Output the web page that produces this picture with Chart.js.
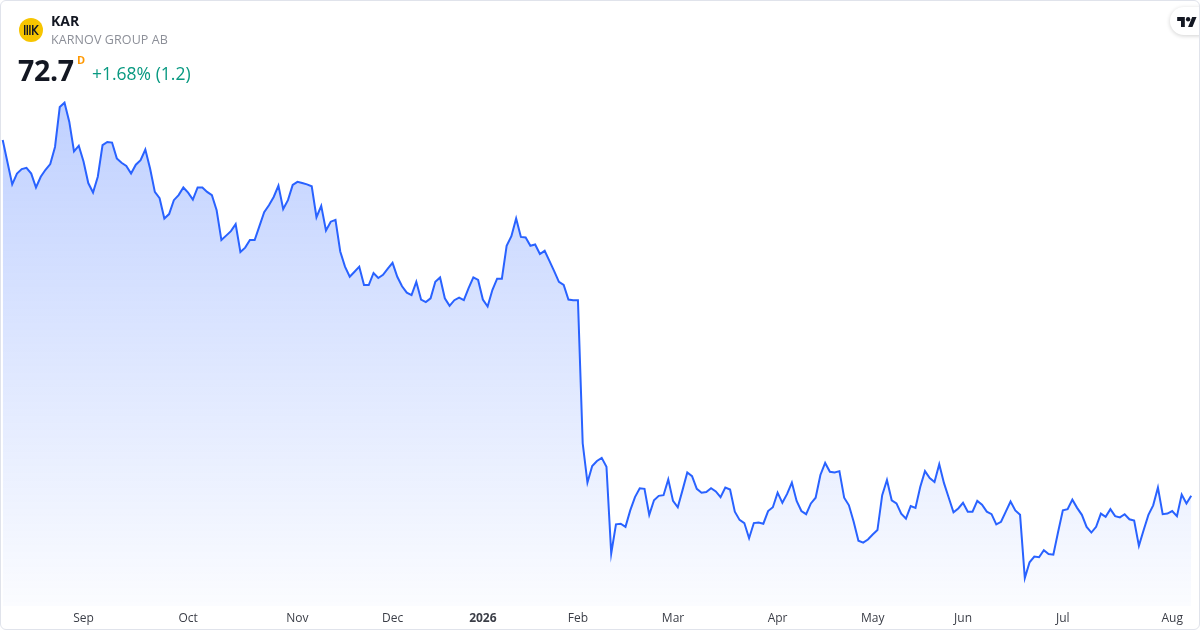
<!DOCTYPE html>
<html>
<head>
<meta charset="utf-8">
<title>KAR - Karnov Group AB</title>
<script src="https://cdn.jsdelivr.net/npm/chart.js@4/dist/chart.umd.min.js"></script>
<style>
    html, body {
        margin: 0;
        padding: 0;
        width: 1200px;
        height: 630px;
        background: #ffffff;
        overflow: hidden;
        font-family: "Open Sans", "Noto Sans", sans-serif;
    }
    .card {
        position: absolute;
        left: 0;
        top: 0;
        width: 1198px;
        height: 628px;
        border: 1px solid #e0e3eb;
        border-radius: 6px;
        overflow: hidden;
    }
    #priceChart {
        position: absolute;
        left: -1px;
        top: -1px;
    }
    .logo {
        position: absolute;
        left: 18px;
        top: 17px;
        width: 24px;
        height: 24px;
    }
    .ticker {
        position: absolute;
        left: 50px;
        top: 10px;
        font-size: 14px;
        font-weight: 700;
        color: #131722;
    }
    .company {
        position: absolute;
        left: 50px;
        top: 30px;
        font-size: 12.5px;
        color: #8c8f98;
        letter-spacing: 0.1px;
    }
    .price {
        position: absolute;
        left: 17px;
        top: 50px;
        font-size: 28.5px;
        font-weight: 700;
        color: #131722;
        letter-spacing: -0.3px;
    }
    .interval {
        position: absolute;
        left: 76px;
        top: 51px;
        font-size: 11px;
        font-weight: 700;
        color: #ff9800;
    }
    .change {
        position: absolute;
        left: 91px;
        top: 60px;
        font-size: 17.5px;
        color: #089981;
    }
    .tv-badge {
        position: absolute;
        left: 1169px;
        top: 6px;
        width: 44px;
        height: 28px;
        background: #ffffff;
        border-radius: 14px;
        box-shadow: 0 1px 4px rgba(0, 0, 0, 0.18);
    }
    .tv-badge svg {
        position: absolute;
        left: 7px;
        top: 9px;
    }
</style>
</head>
<body>
<div class="card">
    <canvas id="priceChart" width="1200" height="630"></canvas>

    <svg class="logo" viewBox="0 0 24 24">
        <circle cx="12" cy="12" r="12" fill="#f7c500"/>
        <rect x="5" y="7" width="1.4" height="10" fill="#131722"/>
        <rect x="7.6" y="7" width="1.4" height="10" fill="#131722"/>
        <rect x="10.2" y="7" width="1.4" height="10" fill="#131722"/>
        <path d="M13 7h1.5v4.3L18 7h1.8l-3.8 5 3.9 5h-1.8l-3.6-4.6V17H13z" fill="#131722"/>
    </svg>
    <div class="ticker">KAR</div>
    <div class="company">KARNOV GROUP AB</div>
    <div class="price">72.7</div>
    <div class="interval">D</div>
    <div class="change">+1.68% (1.2)</div>

    <div class="tv-badge">
        <svg width="20" height="12" viewBox="0 0 36 22">
            <path d="M14 20H7V9H0V2h14v18z" fill="#131722"/>
            <circle cx="20" cy="6" r="4" fill="#131722"/>
            <path d="M28 20h-8l7.5-18h8z" fill="#131722"/>
        </svg>
    </div>
</div>

<script>
// Chart colours (TradingView snapshot look)
const LINE_COLOR = '#2962ff';
const TICK_COLOR = '#3b3e47';

// Daily closing prices, KAR (SEK), Aug 2025 - Aug 2026
const closePrices = [
    128.9, 125.4, 121.9, 123.6, 124.3, 124.5, 123.6, 121.4, 123.1, 124.2,
    125.1, 127.8, 134.1, 134.8, 131.8, 127.1, 128.0, 125.5, 122.1, 120.6,
    123.1, 128.1, 128.6, 128.5, 126.0, 125.3, 124.8, 123.6, 125.0, 125.7,
    127.4, 124.4, 120.7, 119.7, 116.5, 117.2, 119.4, 120.2, 121.4, 120.6,
    119.5, 121.4, 121.4, 120.7, 120.2, 117.8, 113.1, 113.8, 114.5, 115.6,
    111.2, 111.9, 113.1, 113.1, 115.3, 117.5, 118.6, 119.9, 121.7, 118.0,
    119.4, 121.8, 122.3, 122.1, 121.9, 121.6, 116.7, 118.5, 114.6, 116.0,
    116.3, 111.3, 108.9, 107.3, 108.1, 108.9, 106.0, 106.0, 107.9, 107.1,
    107.6, 108.6, 109.5, 107.3, 105.8, 104.8, 104.4, 106.5, 103.7, 103.3,
    103.9, 106.5, 107.2, 103.9, 102.7, 103.6, 104.0, 103.6, 105.5, 107.2,
    106.8, 103.7, 102.6, 105.2, 107.0, 107.0, 112.2, 113.7, 116.5, 113.6,
    113.5, 112.2, 112.4, 110.9, 111.4, 109.8, 108.2, 106.5, 106.0, 103.7,
    103.6, 103.6, 81.0, 74.8, 77.4, 78.2, 78.7, 77.3, 63.6, 68.2,
    68.3, 67.8, 70.4, 72.5, 73.9, 73.8, 69.7, 72.0, 72.7, 72.8,
    75.3, 71.9, 70.9, 73.6, 76.4, 75.8, 73.8, 73.2, 73.3, 73.9,
    73.4, 72.5, 74.0, 73.7, 70.2, 68.9, 68.4, 66.0, 68.4, 68.5,
    68.3, 70.3, 70.9, 73.2, 71.6, 73.0, 74.8, 71.9, 70.3, 69.8,
    71.5, 72.4, 76.0, 77.9, 76.5, 76.4, 76.6, 72.4, 71.2, 68.6,
    65.6, 65.3, 65.8, 66.6, 67.3, 72.8, 75.2, 72.0, 71.5, 69.9,
    69.1, 71.1, 70.8, 74.1, 76.6, 75.5, 74.9, 77.7, 74.7, 72.4,
    70.1, 70.7, 71.6, 70.2, 70.2, 71.9, 71.3, 70.2, 69.8, 68.2,
    68.6, 70.2, 71.8, 70.4, 69.7, 59.7, 62.2, 63.1, 63.0, 64.1,
    63.5, 63.4, 67.0, 70.4, 70.6, 72.1, 70.8, 69.7, 67.8, 66.9,
    67.8, 69.9, 69.4, 70.6, 69.5, 69.3, 69.8, 69.0, 68.8, 64.8,
    67.3, 69.7, 71.2, 74.0, 69.8, 69.9, 70.3, 69.5, 72.9, 71.5,
    72.7
];

// Month labels on the time axis and the trading-day index they sit on
const monthLabels = ['Sep', 'Oct', 'Nov', 'Dec', '2026', 'Feb', 'Mar', 'Apr', 'May', 'Jun', 'Jul', 'Aug'];
const monthStartIdx = [17, 39, 62, 82, 101, 121, 141, 163, 183, 202, 223, 246];

/**
 * Vertical gradient under the price line
 */
function areaGradient(context) {
    const chart = context.chart;
    const area = chart.chartArea;
    if (!area) {
        return 'rgba(41, 98, 255, 0.2)';
    }
    const g = chart.ctx.createLinearGradient(0, area.top, 0, area.bottom);
    g.addColorStop(0, 'rgba(41, 98, 255, 0.30)');
    g.addColorStop(1, 'rgba(41, 98, 255, 0.02)');
    return g;
}

/**
 * Create the price area chart
 * @param {string} canvasId - Canvas element ID
 */
function createPriceChart(canvasId) {
    const ctx = document.getElementById(canvasId);
    if (!ctx) {
        console.error(`Canvas element ${canvasId} not found`);
        return null;
    }

    const points = closePrices.map((p, i) => ({ x: i, y: p }));

    return new Chart(ctx, {
        type: 'line',
        data: {
            datasets: [{
                data: points,
                borderColor: LINE_COLOR,
                borderWidth: 2,
                backgroundColor: areaGradient,
                fill: 'start',
                pointRadius: 0,
                tension: 0
            }]
        },
        options: {
            responsive: false,
            animation: false,
            layout: {
                padding: { top: 90, left: 0, right: 0, bottom: 0 }
            },
            plugins: {
                legend: { display: false },
                tooltip: { enabled: false }
            },
            scales: {
                x: {
                    type: 'linear',
                    min: -0.57,
                    max: 251.85,
                    grid: { display: false, drawTicks: false },
                    border: { display: false },
                    afterBuildTicks: function(scale) {
                        scale.ticks = monthStartIdx.map(v => ({ value: v }));
                    },
                    afterFit: function(scale) {
                        scale.height = 24;
                    },
                    ticks: {
                        autoSkip: false,
                        maxRotation: 0,
                        padding: 5,
                        color: TICK_COLOR,
                        font: function(c) {
                            const bold = c.index === monthLabels.indexOf('2026');
                            return { family: '"Open Sans", sans-serif', size: 12, weight: bold ? 'bold' : 'normal' };
                        },
                        callback: function(value, index) {
                            return monthLabels[index];
                        }
                    }
                },
                y: {
                    display: false,
                    min: 55.3,
                    max: 136.8
                }
            }
        }
    });
}

document.addEventListener('DOMContentLoaded', function() {
    createPriceChart('priceChart');
});
</script>
</body>
</html>
